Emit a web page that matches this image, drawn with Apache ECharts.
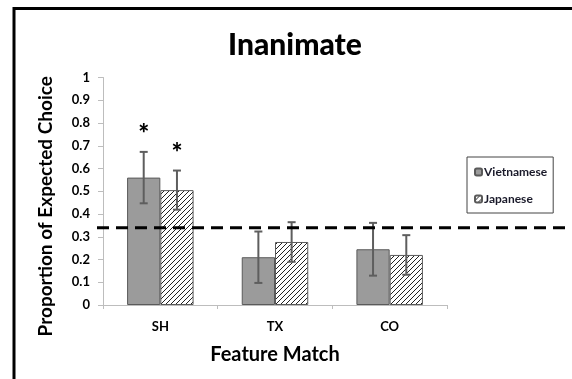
<!DOCTYPE html>
<html><head><meta charset="utf-8">
<script src="https://cdn.jsdelivr.net/npm/echarts@6/dist/echarts.min.js"></script>
<style>html,body{margin:0;padding:0;background:#fff}#c{width:572px;height:379px}</style>
</head><body><div id="c"></div>
<script>
const categories = ['SH', 'TX', 'CO'];
const vietnamese = [0.56, 0.21, 0.245];
const japanese = [0.505, 0.277, 0.22];
const vietnameseErr = [0.113, 0.113, 0.116];
const japaneseErr = [0.086, 0.087, 0.087];
const vietnameseSig = [true, false, false];
const japaneseSig = [true, false, false];
const chanceLevel = 0.34;
const chanceX = [0, 1];
const yMin = 0, yMax = 1, yStep = 0.1;

const FONT = 'Lato';
function hatch() {
  const c = document.createElement('canvas');
  c.width = 5; c.height = 5;
  const g = c.getContext('2d');
  g.fillStyle = '#fff'; g.fillRect(0, 0, 5, 5);
  g.strokeStyle = '#222'; g.lineWidth = 1;
  g.beginPath();
  g.moveTo(-1, 6); g.lineTo(6, -1);
  g.moveTo(-1, 1); g.lineTo(1, -1);
  g.moveTo(4, 6); g.lineTo(6, 4);
  g.stroke();
  return c;
}
const hatchPattern = { image: hatch(), repeat: 'repeat' };

const errData = [];
categories.forEach((c, i) => {
  errData.push([i, vietnamese[i], vietnameseErr[i], -1, vietnameseSig[i] ? 1 : 0]);
  errData.push([i, japanese[i], japaneseErr[i], 1, japaneseSig[i] ? 1 : 0]);
});

const chart = echarts.init(document.getElementById('c'));
chart.setOption({
  backgroundColor: '#fff',
  animation: false,
  title: {
    text: 'Inanimate', left: 290, top: 25, textAlign: 'center',
    textStyle: { fontFamily: FONT, fontWeight: 900, fontSize: 30, color: '#000' }
  },
  legend: {
    orient: 'vertical', left: 467, top: 157,
    padding: [9, 6, 8, 7], itemGap: 15, itemWidth: 7, itemHeight: 7,
    borderColor: '#444', borderWidth: 1,
    data: ['Vietnamese', 'Japanese'],
    textStyle: { fontFamily: FONT, fontWeight: 'bold', fontSize: 12, color: '#1a1a2a', padding: [0, 0, 0, -3] }
  },
  grid: [
    { left: 103, right: 125, top: 77.5, bottom: 74 },
    { left: 97, right: 0, top: 77.5, bottom: 74 }
  ],
  xAxis: [
    {
      type: 'category', data: categories, gridIndex: 0,
      axisLine: { lineStyle: { color: '#bdbdbd', width: 1 } },
      axisTick: { show: true, length: 4, lineStyle: { color: '#bdbdbd' } },
      axisLabel: { fontFamily: FONT, fontWeight: 'bold', fontSize: 13, color: '#000', margin: 15 },
      name: 'Feature Match', nameLocation: 'middle', nameGap: 40,
      nameTextStyle: { fontFamily: FONT, fontWeight: 'bold', fontSize: 20, color: '#000' }
    },
    { type: 'value', gridIndex: 1, min: 0, max: 1, show: false }
  ],
  yAxis: [
    {
      type: 'value', gridIndex: 0, min: yMin, max: yMax, interval: yStep,
      axisLine: { show: true, lineStyle: { color: '#bdbdbd' } },
      axisTick: { show: true, length: 5, lineStyle: { color: '#bdbdbd' } },
      splitLine: { show: false },
      axisLabel: { fontFamily: FONT, fontWeight: 'bold', fontSize: 13, color: '#000', margin: 13 },
      name: 'Proportion of Expected Choice', nameLocation: 'middle', nameGap: 48,
      nameTextStyle: { fontFamily: FONT, fontWeight: 'bold', fontSize: 19, color: '#000', padding: [0, 30, 0, 0] }
    },
    { type: 'value', gridIndex: 1, min: yMin, max: yMax, show: false }
  ],
  series: [
    {
      name: 'Vietnamese', type: 'bar', data: vietnamese, barWidth: '29%', barGap: '0%',
      itemStyle: { color: '#9b9b9b', borderColor: '#5a5a5a', borderWidth: 1 }
    },
    {
      name: 'Japanese', type: 'bar', data: japanese, barWidth: '29%', barGap: '0%',
      itemStyle: { color: hatchPattern, borderColor: '#5a5a5a', borderWidth: 1 }
    },
    {
      type: 'custom', data: errData, z: 5,
      renderItem: function (params, api) {
        const ci = api.value(0), v = api.value(1), e = api.value(2), side = api.value(3), sig = api.value(4);
        const band = api.size([1, 0])[0];
        const top = api.coord([ci, v + e]);
        const bot = api.coord([ci, v - e]);
        const x = top[0] + side * band * 0.145;
        const cap = 4;
        const st = { stroke: '#5e5e5e', lineWidth: 2 };
        const children = [
          { type: 'line', shape: { x1: x, y1: top[1], x2: x, y2: bot[1] }, style: st },
          { type: 'line', shape: { x1: x - cap, y1: top[1], x2: x + cap, y2: top[1] }, style: st },
          { type: 'line', shape: { x1: x - cap, y1: bot[1], x2: x + cap, y2: bot[1] }, style: st }
        ];
        if (sig) {
          children.push({ type: 'text', style: { text: '*', x: x, y: top[1] - 17, align: 'center', verticalAlign: 'middle',
            font: '900 26px ' + FONT, fill: '#000' } });
        }
        return { type: 'group', children: children };
      }
    },
    {
      type: 'line', xAxisIndex: 1, yAxisIndex: 1, z: 10, symbol: 'none', silent: true,
      data: chanceX.map(x => [x, chanceLevel]),
      lineStyle: { color: '#000', width: 3, type: [12, 7] }
    }
  ],
  graphic: [
    { type: 'polyline', shape: { points: [[14, 379], [14, 8.5], [572, 8.5]] },
      style: { stroke: '#000', lineWidth: 3, fill: null } }
  ]
});
</script></body></html>
